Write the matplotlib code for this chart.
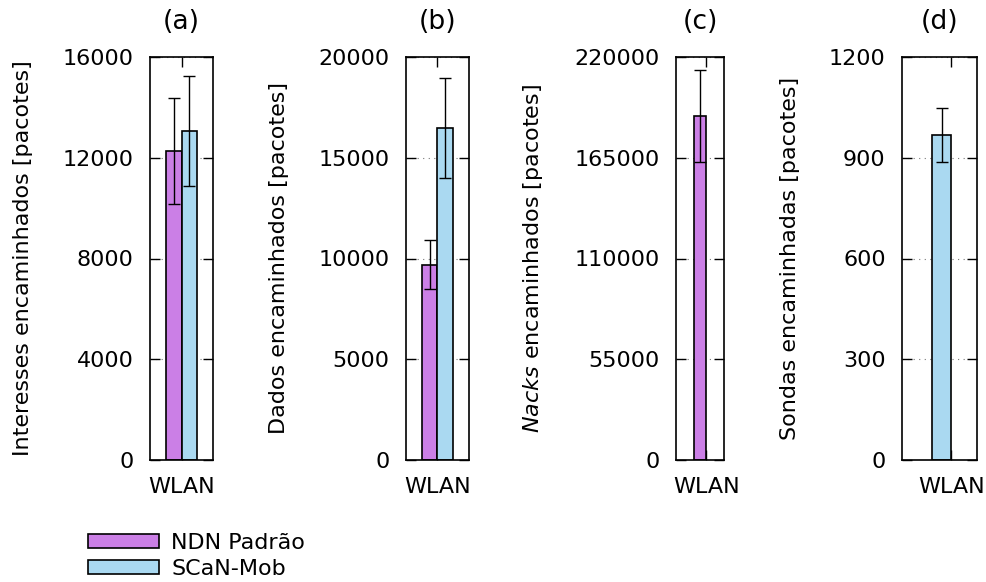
import numpy as np
import matplotlib.pyplot as plt

# data
panels = ['(a)', '(b)', '(c)', '(d)']
category = ['WLAN']
ylabels = ['Interesses encaminhados [pacotes]',
           'Dados encaminhados [pacotes]',
           r'$\it{Nacks}$ encaminhados [pacotes]',
           'Sondas encaminhadas [pacotes]']
ndn_mean = [12270, 9700, 187800, np.nan]
ndn_err = [2120, 1230, 24850, np.nan]
scan_mean = [13060, 16460, np.nan, 968]
scan_err = [2185, 2480, np.nan, 80]
ymax = [16000, 20000, 220000, 1200]
yticks = [[0, 4000, 8000, 12000, 16000],
          [0, 5000, 10000, 15000, 20000],
          [0, 55000, 110000, 165000, 220000],
          [0, 300, 600, 900, 1200]]

c_ndn = '#cb7fe6'
c_scan = '#aad9f1'

plt.rcParams['font.size'] = 16
plt.rcParams['mathtext.fontset'] = 'dejavusans'

fig = plt.figure(figsize=(9.86, 5.82), dpi=100)

# axes rectangles (left, width) in pixels, xlim per panel
rects = [(150, 63), (406, 62.7), (676, 48.3), (902.3, 75)]
xlims = [(-2, 2), (-2, 2), (-2.5, 1.5), (-2.55, 1.35)]
bottom = 1 - 460 / 582
height = (460 - 57) / 582

for i in range(4):
    left, w = rects[i]
    ax = fig.add_axes([left / 986, bottom, w / 986, height])
    ax.grid(axis='y', color='#777777', linestyle=(0, (1, 4)), linewidth=0.8)
    ax.set_axisbelow(True)
    if not np.isnan(ndn_mean[i]):
        x = -0.5
        ax.bar(x, ndn_mean[i], width=1, color=c_ndn, edgecolor='black', linewidth=1.2, zorder=2)
        ax.errorbar(x, ndn_mean[i], yerr=ndn_err[i], color='black', capsize=4, elinewidth=1, capthick=1, zorder=3)
    if not np.isnan(scan_mean[i]):
        x = 0.5 if i < 3 else -0.5
        ax.bar(x, scan_mean[i], width=1, color=c_scan, edgecolor='black', linewidth=1.2, zorder=2)
        ax.errorbar(x, scan_mean[i], yerr=scan_err[i], color='black', capsize=4, elinewidth=1, capthick=1, zorder=3)
    ax.set_xlim(*xlims[i])
    ax.set_ylim(0, ymax[i])
    ax.set_yticks(yticks[i])
    ax.set_xticks([0])
    ax.set_xticklabels(category)
    ax.tick_params(direction='in', top=True, right=True, length=7, width=1, pad=12)
    ax.tick_params(axis='x', pad=12)
    for s in ax.spines.values():
        s.set_linewidth(1.2)
    ax.set_ylabel(ylabels[i], labelpad=21)
    ax.set_title(panels[i], pad=20)

handles = [plt.Rectangle((0, 0), 1, 1, facecolor=c_ndn, edgecolor='black', linewidth=1.2),
           plt.Rectangle((0, 0), 1, 1, facecolor=c_scan, edgecolor='black', linewidth=1.2)]
fig.legend(handles, ['NDN Padrão', 'SCaN-Mob'], loc='upper left',
           bbox_to_anchor=(70 / 986, 1 - 515 / 582), frameon=False, borderpad=0.3,
           handlelength=3.2, handleheight=0.6, labelspacing=0.28, handletextpad=0.55)

fig.savefig('out.png', dpi=100)
